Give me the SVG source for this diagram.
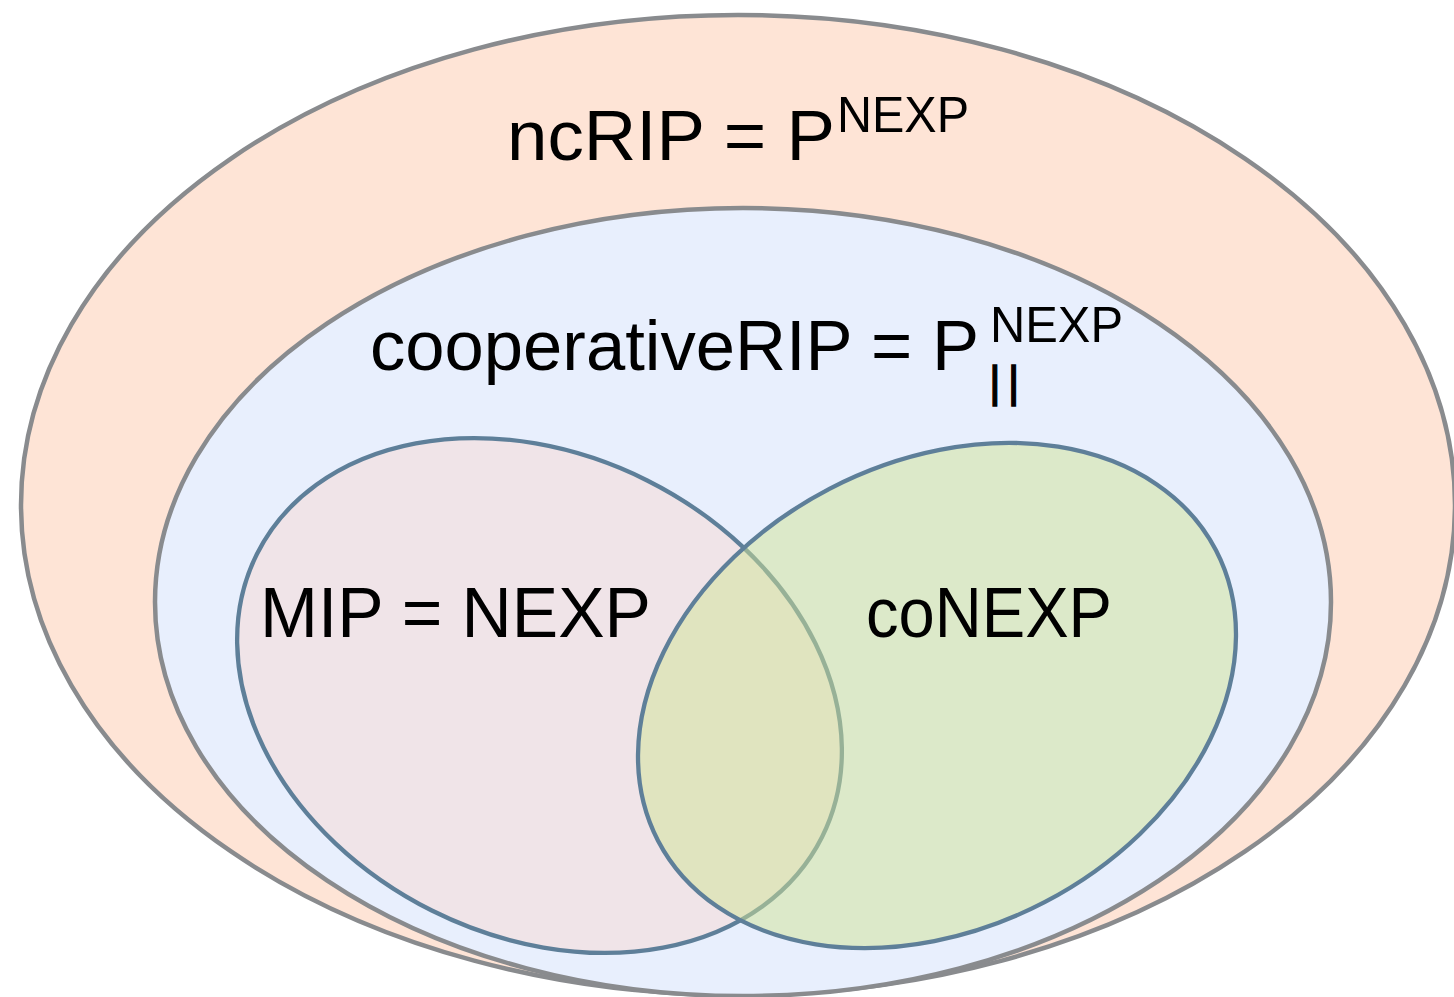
<svg xmlns="http://www.w3.org/2000/svg" width="1454" height="997" viewBox="0 0 1454 997">
  <style>
    .outer { fill: #fee4d6; stroke: #898b8e; stroke-width: 4.5; }
    .inner { fill: #e8effd; stroke: #898b8e; stroke-width: 4.5; }
    .mip { fill: #f0e4e8; stroke: #5e7f99; stroke-width: 4.3; }
    .conexp { fill: rgb(208,227,149); fill-opacity: 0.5; stroke: #5e7f99; stroke-width: 4.3; }
    .lbl { font-family: "Liberation Sans", Arial, sans-serif; font-size: 70px; fill: #000; }
    .sup { font-size: 50px; }
    .bars { font-size: 45px; letter-spacing: 7px; stroke: #000; stroke-width: 1.3; }
  </style>
  <rect width="1454" height="997" fill="#ffffff"/>

  <!-- ncRIP = P^NEXP -->
  <g id="ncRIP">
    <ellipse class="outer" cx="738" cy="505" rx="717" ry="490"/>
    <text class="lbl" x="507" y="160" textLength="328" lengthAdjust="spacingAndGlyphs">ncRIP = P</text>
    <text class="lbl sup" x="837" y="132" textLength="132" lengthAdjust="spacingAndGlyphs">NEXP</text>
  </g>

  <!-- cooperativeRIP = P_||^NEXP -->
  <g id="cooperativeRIP">
    <ellipse class="inner" cx="743" cy="602" rx="588" ry="394"/>
    <text class="lbl" x="370" y="370" textLength="609" lengthAdjust="spacingAndGlyphs">cooperativeRIP = P</text>
    <text class="lbl sup" x="990" y="342" textLength="133" lengthAdjust="spacingAndGlyphs">NEXP</text>
    <text class="lbl bars" x="989" y="397">||</text>
  </g>

  <!-- MIP = NEXP -->
  <g id="MIP">
    <ellipse class="mip" cx="0" cy="0" rx="316" ry="240.5" transform="translate(539.5 695.5) rotate(26.6)"/>
    <text class="lbl" x="260" y="637" textLength="391" lengthAdjust="spacingAndGlyphs">MIP = NEXP</text>
  </g>

  <!-- coNEXP -->
  <g id="coNEXP">
    <ellipse class="conexp" cx="0" cy="0" rx="314.5" ry="233" transform="translate(937 695.5) rotate(-27.5)"/>
    <text class="lbl" x="866" y="637" textLength="246" lengthAdjust="spacingAndGlyphs">coNEXP</text>
  </g>
</svg>
